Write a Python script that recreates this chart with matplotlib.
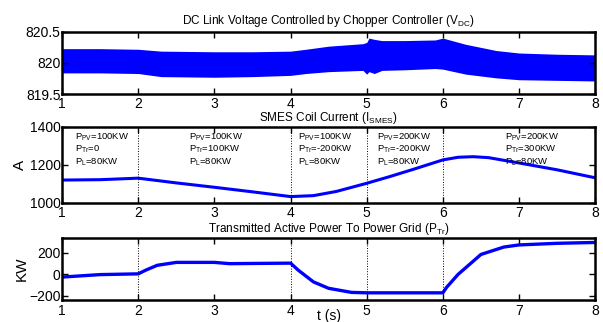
import matplotlib
matplotlib.use("Agg")
import matplotlib.pyplot as plt

plt.rcParams["font.family"] = ["Liberation Sans", "DejaVu Sans"]

# DC link voltage: envelope of the fast ripple band
t_vdc = [1, 1.5, 2, 2.3, 3, 3.5, 4, 4.2, 4.5, 4.95, 5.0, 5.03, 5.1, 5.2, 5.5, 5.9, 6.0, 6.3, 6.7, 7, 7.5, 8]
vdc_hi = [820.23, 820.23, 820.22, 820.19, 820.18, 820.18, 820.19, 820.22, 820.27, 820.31, 820.33, 820.40, 820.38, 820.36, 820.36, 820.37, 820.40, 820.30, 820.20, 820.16, 820.14, 820.13]
vdc_lo = [819.84, 819.84, 819.83, 819.78, 819.77, 819.78, 819.80, 819.83, 819.86, 819.88, 819.82, 819.86, 819.83, 819.88, 819.89, 819.91, 819.90, 819.82, 819.76, 819.73, 819.72, 819.71]

# SMES coil current
t_ismes = [1, 1.5, 2, 2.5, 3, 3.5, 4, 4.3, 4.6, 5, 5.3, 5.6, 6, 6.2, 6.4, 6.6, 7, 7.5, 8]
ismes = [1120, 1122, 1130, 1105, 1082, 1058, 1033, 1038, 1060, 1103, 1138, 1175, 1226, 1240, 1243, 1238, 1210, 1174, 1132]

# transmitted active power
t_ptr = [1, 1.5, 2, 2.1, 2.25, 2.5, 3, 3.2, 3.5, 4, 4.1, 4.3, 4.5, 4.8, 5, 5.5, 6, 6.05, 6.2, 6.5, 6.8, 7, 7.5, 8]
ptr = [-25, -2, 5, 40, 85, 112, 112, 100, 102, 105, 40, -70, -130, -168, -172, -172, -172, -120, 0, 186, 255, 275, 290, 298]

switch_times = [2, 4, 5, 6]

# operating condition labels (x position, lines)
cond_x = [1.17, 2.66, 4.1, 5.14, 6.82]
cond_pv = ["100KW", "100KW", "100KW", "200KW", "200KW"]
cond_tr = ["0", "100KW", "-200KW", "-200KW", "300KW"]
cond_l = ["80KW", "80KW", "80KW", "80KW", "80KW"]

fig = plt.figure(figsize=(6.03, 3.22), dpi=100)
ax1 = fig.add_axes([0.103, 0.708, 0.884, 0.193])
ax2 = fig.add_axes([0.103, 0.370, 0.884, 0.236])
ax3 = fig.add_axes([0.103, 0.068, 0.884, 0.193])

blue = "#0000ff"

ax1.fill_between(t_vdc, vdc_lo, vdc_hi, color=blue, lw=0)
ax1.set_ylim(819.5, 820.5)
ax1.set_yticks([819.5, 820, 820.5])
ax1.set_yticklabels(["819.5", "820", "820.5"])
ax1.set_title(r"DC Link Voltage Controlled by Chopper Controller (V$_{\mathregular{DC}}$)",
              fontsize=8.5, pad=6)

ax2.plot(t_ismes, ismes, color=blue, lw=2.2)
ax2.set_ylim(1000, 1400)
ax2.set_yticks([1000, 1200, 1400])
ax2.set_ylabel("A", fontsize=11, labelpad=2)
ax2.set_title(r"SMES Coil Current (I$_{\mathregular{SMES}}$)", fontsize=8.5, pad=4)
for x, pv, tr, pl in zip(cond_x, cond_pv, cond_tr, cond_l):
    ax2.text(x, 1345, r"P$_{\mathregular{PV}}$=" + pv, fontsize=6.8, va="center")
    ax2.text(x, 1280, r"P$_{\mathregular{Tr}}$=" + tr, fontsize=6.8, va="center")
    ax2.text(x, 1215, r"P$_{\mathregular{L}}$=" + pl, fontsize=6.8, va="center")

ax3.plot(t_ptr, ptr, color=blue, lw=2.4)
ax3.set_ylim(-240, 340)
ax3.set_yticks([-200, 0, 200])
ax3.set_ylabel("KW", fontsize=11, labelpad=0)
ax3.set_xlabel("t (s)", fontsize=10)
ax3.xaxis.set_label_coords(0.5, -0.15)
ax3.set_title(r"Transmitted Active Power To Power Grid (P$_{\mathregular{Tr}}$)", fontsize=8.5, pad=4)

for ax in (ax2, ax3):
    for ts in switch_times:
        ax.axvline(ts, color="black", ls=":", lw=0.7)

for ax in (ax1, ax2, ax3):
    ax.set_xlim(1, 8)
    ax.set_xticks(range(1, 9))
    ax.tick_params(direction="in", top=True, right=True, length=4, width=1,
                   labelsize=10, pad=1)
    ax.tick_params(axis="x", pad=2.5)
    for sp in ax.spines.values():
        sp.set_linewidth(1.8)

fig.savefig("out.png", dpi=100)
